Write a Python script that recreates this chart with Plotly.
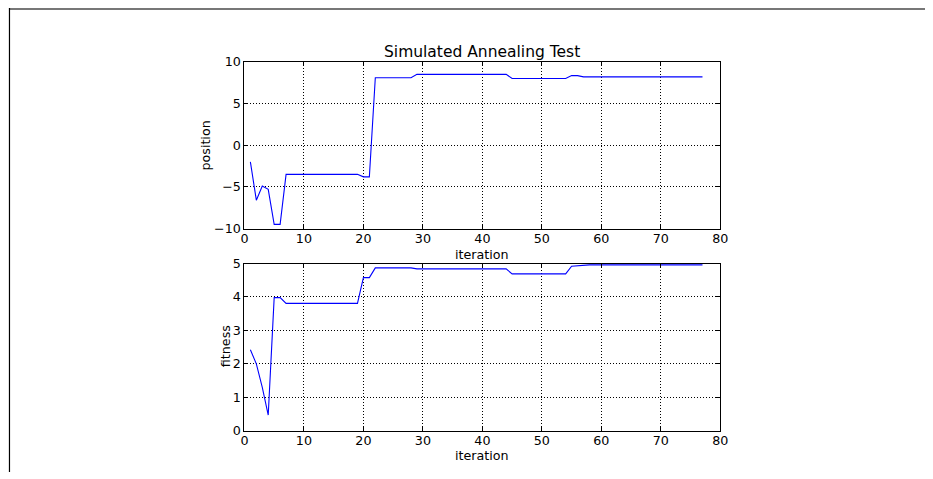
import plotly.graph_objects as go

# Annealing run: iteration number, current position and fitness
iteration = list(range(1, 78))

position = (
    [-2.0, -6.6, -4.9, -5.3, -9.5, -9.5]
    + [-3.5] * 13            # iterations 7-19
    + [-3.8, -3.8]           # 20-21
    + [8.1] * 7              # 22-28
    + [8.5] * 16             # 29-44
    + [8.0] * 10             # 45-54
    + [8.35, 8.35]           # 55-56
    + [8.2] * 21             # 57-77
)

fitness = (
    [2.42, 2.0, 1.3, 0.47, 3.98, 3.98]
    + [3.81] * 13            # 7-19
    + [4.58, 4.58]           # 20-21
    + [4.87] * 7             # 22-28
    + [4.84] * 16            # 29-44
    + [4.69] * 10            # 45-54
    + [4.92, 4.94]           # 55-56
    + [4.96] * 21            # 57-77
)

x_ticks = [0, 10, 20, 30, 40, 50, 60, 70, 80]
pos_ticks = [-10, -5, 0, 5, 10]
fit_ticks = [0, 1, 2, 3, 4, 5]

W, H = 933, 479
FONT = "DejaVu Sans"

# pixel -> paper conversion for the page as it is laid out
SX, OX = 0.9915, 3.0
SY, OY = 0.9677, 7.7


def fx(px):
    return (px - OX) / SX / W


def fy(py):
    return 1 - (py - OY) / SY / H


x0, x1 = fx(244.5), fx(722.5)
top_dom = [fy(228), fy(61.5)]
bot_dom = [fy(430), fy(263)]
xc = (x0 + x1) / 2

fig = go.Figure()
fig.add_trace(go.Scatter(x=iteration, y=position, mode="lines",
                         line=dict(color="#0000ff", width=1.1),
                         xaxis="x", yaxis="y", showlegend=False))
fig.add_trace(go.Scatter(x=iteration, y=fitness, mode="lines",
                         line=dict(color="#0000ff", width=1.1),
                         xaxis="x2", yaxis="y2", showlegend=False))

axis_common = dict(
    showline=True, linecolor="black", linewidth=1, mirror="ticks",
    ticks="inside", ticklen=4, tickcolor="black",
    showgrid=True, gridcolor="black", griddash="1px,2px", gridwidth=1,
    zeroline=False, tickfont=dict(family=FONT, size=12.7, color="black"),
)
x_common = dict(axis_common, ticklabelstandoff=-2)

label_font = dict(family=FONT, size=12.7, color="black")


def label(text, px, py, angle=0, size=None):
    font = dict(label_font)
    if size:
        font["size"] = size
    return dict(text=text, x=fx(px), y=fy(py), textangle=angle,
                xref="paper", yref="paper", showarrow=False,
                xanchor="center", yanchor="middle", font=font)


fig.update_layout(
    width=W, height=H,
    margin=dict(l=0, r=0, t=0, b=0),
    paper_bgcolor="white", plot_bgcolor="white",
    xaxis=dict(domain=[x0, x1], range=[0, 80], tickvals=x_ticks,
               anchor="y", **x_common),
    yaxis=dict(domain=top_dom, range=[-10, 10], tickvals=pos_ticks,
               anchor="x", **axis_common),
    xaxis2=dict(domain=[x0, x1], range=[0, 80], tickvals=x_ticks,
                anchor="y2", **x_common),
    yaxis2=dict(domain=bot_dom, range=[0, 5], tickvals=fit_ticks,
                anchor="x2", **axis_common),
    annotations=[
        label("Simulated Annealing Test", 483.5, 52, size=15.5),
        label("iteration", 483.5, 254),
        label("iteration", 483.5, 455),
        label("position", 205, 145, angle=-90),
        label("fitness", 225.5, 346, angle=-90),
    ],
    shapes=[
        dict(type="line", xref="paper", yref="paper",
             x0=fx(8), x1=1, y0=1 - 1 / H, y1=1 - 1 / H,
             line=dict(color="#777777", width=2)),
        dict(type="line", xref="paper", yref="paper",
             x0=fx(8.5), x1=fx(8.5), y0=0, y1=1,
             line=dict(color="black", width=1.2)),
    ],
)

fig.write_html("out.html")
